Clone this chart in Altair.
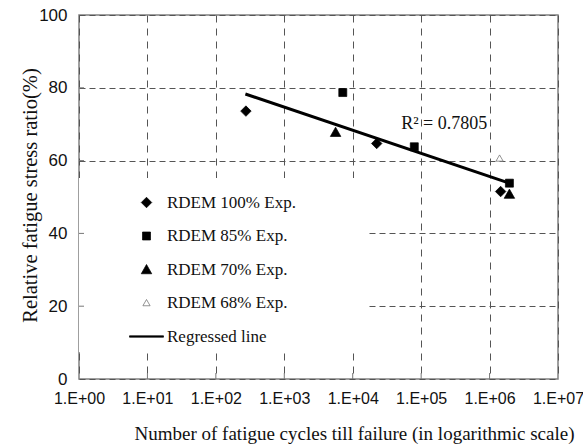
import altair as alt
import pandas as pd

# ---- data ----
series_names = ["RDEM 100% Exp.", "RDEM 85% Exp.", "RDEM 70% Exp.", "RDEM 68% Exp.", "Regressed line"]

rdem100_cycles = [275, 22400, 1.45e6]
rdem100_ratio = [73.6, 64.7, 51.5]
rdem85_cycles = [7160, 79400, 1.95e6]
rdem85_ratio = [78.7, 63.8, 53.8]
rdem70_cycles = [5620, 1.95e6]
rdem70_ratio = [67.8, 50.8]
rdem68_cycles = [1.40e6]
rdem68_ratio = [60.6]

line_cycles = [270, 1.8e6]
line_ratio = [78.3, 54.0]

r2_label = "R\u00b2 = 0.7805"
r2_cycles = [51000]
r2_ratio = [70]

x_ticks = [1, 10, 100, 1000, 1e4, 1e5, 1e6, 1e7]
y_ticks = [0, 20, 40, 60, 80, 100]

# extent of the white legend panel (data coordinates)
legend_box_x = [1, 16200]
legend_box_y = [7.4, 55.2]

# ---- tables ----
rows = []
for name, xs, ys in [
    (series_names[0], rdem100_cycles, rdem100_ratio),
    (series_names[1], rdem85_cycles, rdem85_ratio),
    (series_names[2], rdem70_cycles, rdem70_ratio),
    (series_names[3], rdem68_cycles, rdem68_ratio),
]:
    for x, y in zip(xs, ys):
        rows.append({"series": name, "cycles": x, "ratio": y})
points_df = pd.DataFrame(rows)
line_df = pd.DataFrame({"cycles": line_cycles, "ratio": line_ratio})
r2_df = pd.DataFrame({"cycles": r2_cycles, "ratio": r2_ratio, "label": [r2_label]})
box_df = pd.DataFrame({"x1": [legend_box_x[0]], "x2": [legend_box_x[1]],
                       "y1": [legend_box_y[0]], "y2": [legend_box_y[1]]})
xt_df = pd.DataFrame({"cycles": x_ticks[1:-1]})
yt_df = pd.DataFrame({"ratio": y_ticks[1:-1]})

W, H = 479, 364
SERIF = "Liberation Serif"
SANS = "Liberation Sans"

# marker outlines (unit = half of a 10px symbol)
DIAMOND = "M0,-1.05L1.05,0L0,1.05L-1.05,0Z"
SQUARE = "M-0.8,-0.8L0.8,-0.8L0.8,0.8L-0.8,0.8Z"
TRIANGLE = "M0,-1L1.05,0.85L-1.05,0.85Z"
OPEN_TRIANGLE = "M0,-0.7L0.72,0.55L-0.72,0.55Z"
LINE_SHAPE = "M-3.4,-0.14L3.4,-0.14L3.4,0.14L-3.4,0.14Z"

x_scale = alt.Scale(type="log", domain=[1, 1e7])
y_scale = alt.Scale(domain=[0, 100])

x_enc = alt.X(
    "cycles:Q", scale=x_scale,
    axis=alt.Axis(
        values=x_ticks, domain=False, ticks=False, labelPadding=11,
        labelExpr="'1.E+' + (round(log(datum.value)/LN10) < 10 ? '0' : '') + round(log(datum.value)/LN10)",
        labelFont=SANS, labelFontSize=16, labelColor="#111", labelFlush=False,
        grid=True, gridDash=[7, 6], gridColor="#555", gridWidth=1,
        title="Number of fatigue cycles till failure (in logarithmic scale)",
        titleFont=SERIF, titleFontSize=19, titleFontWeight="normal", titleColor="#111",
        titleX=275, titleY=54, titleBaseline="middle", titleAnchor="middle", titleAlign="center",
    ),
)
y_enc = alt.Y(
    "ratio:Q", scale=y_scale,
    axis=alt.Axis(
        values=y_ticks, domain=False, ticks=False, labelPadding=12,
        labelFont=SANS, labelFontSize=17, labelColor="#111", labelFlush=False,
        grid=True, gridDash=[6, 4], gridColor="#555", gridWidth=1,
        title="Relative fatigue stress ratio(%)",
        titleFont=SERIF, titleFontSize=20.5, titleFontWeight="normal", titleColor="#111",
        titleX=-49, titleY=180, titleBaseline="middle", titleAlign="center", titleAngle=270,
    ),
)

box = alt.Chart(box_df).mark_rect(fill="white").encode(
    x=alt.X("x1:Q", scale=x_scale), x2="x2:Q",
    y=alt.Y("y1:Q", scale=y_scale), y2="y2:Q",
)

xticks = alt.Chart(xt_df).mark_rule(color="#777", strokeWidth=1).encode(
    x=alt.X("cycles:Q", scale=x_scale), y=alt.value(H), y2=alt.value(H - 6)
)
yticks = alt.Chart(yt_df).mark_rule(color="#777", strokeWidth=1).encode(
    y=alt.Y("ratio:Q", scale=y_scale), x=alt.value(0), x2=alt.value(5)
)

reg_line = alt.Chart(line_df).mark_line(color="black", strokeWidth=3).encode(
    x=alt.X("cycles:Q", scale=x_scale), y=alt.Y("ratio:Q", scale=y_scale)
)

legend = alt.Legend(
    orient="none", legendX=59, legendY=179, title=None,
    labelFont=SERIF, labelFontSize=17, labelColor="#111",
    rowPadding=15.5, labelOffset=12, padding=0, symbolOffset=0,
    symbolSize=100, symbolStrokeWidth=0.7,
)

pts = alt.Chart(points_df).mark_point(opacity=1, filled=False, size=100, strokeWidth=0.7).encode(
    x=x_enc, y=y_enc,
    shape=alt.Shape("series:N", scale=alt.Scale(
        domain=series_names,
        range=[DIAMOND, SQUARE, TRIANGLE, OPEN_TRIANGLE, LINE_SHAPE]), legend=legend),
    fill=alt.Fill("series:N", scale=alt.Scale(
        domain=series_names, range=["black", "black", "black", "white", "black"]), legend=legend),
    stroke=alt.Stroke("series:N", scale=alt.Scale(
        domain=series_names, range=["black", "black", "black", "#666666", "black"]), legend=legend),
)

r2_text = alt.Chart(r2_df).mark_text(
    font=SERIF, fontSize=18, align="left", baseline="middle", color="#111"
).encode(x=alt.X("cycles:Q", scale=x_scale), y=alt.Y("ratio:Q", scale=y_scale), text="label:N")

chart = alt.layer(box, xticks, yticks, reg_line, pts, r2_text).properties(
    width=W, height=H,
    autosize=alt.AutoSizeParams(type="none"),
    padding={"left": 79, "top": 15, "right": 25, "bottom": 68},
    background="white",
).configure_view(stroke="#808080", strokeWidth=1.5)

chart.save("out.html", embed_options={"renderer": "svg", "actions": False})
